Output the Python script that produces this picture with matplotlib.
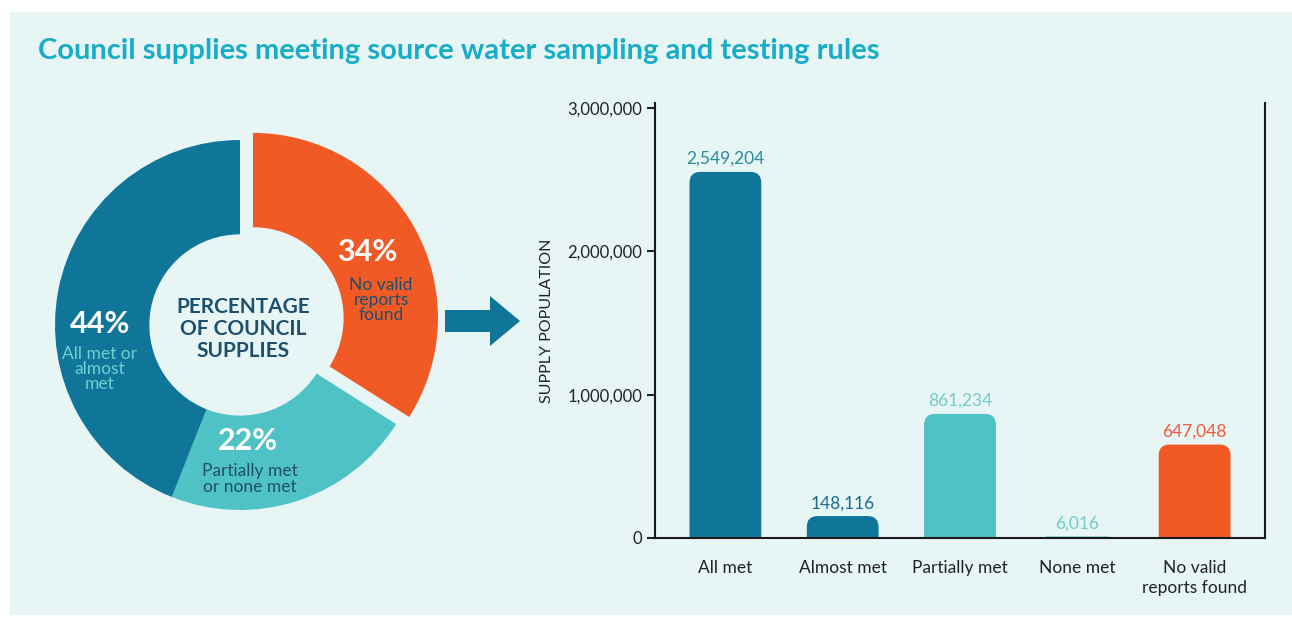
import numpy as np
import matplotlib
matplotlib.use("Agg")
import matplotlib.pyplot as plt
from matplotlib.patches import Rectangle, FancyBboxPatch, FancyArrow, BoxStyle

plt.rcParams['font.family'] = ['Lato', 'DejaVu Sans']

# donut data (clockwise from 12 o'clock)
donut_pct = [34, 22, 44]
donut_nums = ["34%", "22%", "44%"]
donut_text = ["No valid\nreports\nfound", "Partially met\nor none met", "All met or\nalmost\nmet"]

# bar data
categories = ["All met", "Almost met", "Partially met", "None met", "No valid\nreports found"]
population = [2549204, 148116, 861234, 6016, 647048]
bar_labels = ["2,549,204", "148,116", "861,234", "6,016", "647,048"]

BLUE = "#0f7699"
TEAL = "#4fc2c6"
ORANGE = "#f15a24"
NAVY = "#1d4f6e"
BG = "#e7f5f5"

W, H = 1292, 619
fig = plt.figure(figsize=(W / 100, H / 100), dpi=100, facecolor="white")

# overlay axes in pixel coordinates for panel, title, arrow
ov = fig.add_axes([0, 0, 1, 1], zorder=-1)
ov.set_xlim(0, W)
ov.set_ylim(H, 0)
ov.axis("off")
ov.add_patch(Rectangle((10, 12), W - 10, 603, color=BG, lw=0))
ov.text(38, 51, "Council supplies meeting source water sampling and testing rules",
        fontsize=21, fontweight="bold", color="#17acc7", va="center", ha="left")
ov.add_patch(FancyArrow(445, 321, 45, 0, width=22, head_width=50, head_length=30,
                        length_includes_head=False, color=BLUE, lw=0))

# donut
cx, cy, R = 240, 325, 185
span = 210
ax_d = fig.add_axes([(cx - span) / W, (H - cy - span) / H, 2 * span / W, 2 * span / H])
ax_d.pie(donut_pct, colors=[ORANGE, TEAL, BLUE], startangle=90, counterclock=False,
         explode=[0.08, 0, 0], radius=1, wedgeprops=dict(width=0.51, lw=0))
lim = span / R
ax_d.set_xlim(-lim, lim)
ax_d.set_ylim(-lim, lim)
ax_d.set_aspect("equal")
ax_d.axis("off")

def px(x, y):
    return ((x - cx) / R, (cy - y) / R)

ax_d.text(*px(367, 252), donut_nums[0], color="white", fontsize=22, fontweight="bold", ha="center", va="center")
ax_d.text(*px(381, 300), donut_text[0], color=NAVY, fontsize=12.5, ha="center", va="center", linespacing=0.95)
ax_d.text(*px(248, 441), donut_nums[1], color="white", fontsize=22, fontweight="bold", ha="center", va="center")
ax_d.text(*px(250, 479), donut_text[1], color=NAVY, fontsize=12.5, ha="center", va="center", linespacing=0.95)
ax_d.text(*px(100, 324), donut_nums[2], color="white", fontsize=22, fontweight="bold", ha="center", va="center")
ax_d.text(*px(100, 369), donut_text[2], color="#6fcfd0", fontsize=12.5, ha="center", va="center", linespacing=0.95)
ax_d.text(*px(243, 329), "PERCENTAGE\nOF COUNCIL\nSUPPLIES", color=NAVY, fontsize=15,
          fontweight="bold", ha="center", va="center", linespacing=1.15)

# bar chart
ax = fig.add_axes([655 / W, (H - 538) / H, 610 / W, 435 / H])
ax.set_facecolor("none")
x = np.arange(len(categories))
bar_colors = [BLUE, BLUE, TEAL, TEAL, ORANGE]
label_colors = ["#2a8b9c", "#1a6d8e", "#72cdc6", "#72cdc6", "#ef5a3a"]
bw = 0.6
ymax = 3.035e6
ax.set_xlim(-0.6, 4.6)
ax.set_ylim(0, ymax)

bars = ax.bar(x, population, width=bw, color="none")
ypp = ymax / 435
xpp = 5.2 / 610
ma = ypp / xpp
rs = 10 * xpp
for b, c in zip(bars, bar_colors):
    bx, bh = b.get_x(), b.get_height()
    y0 = -rs * ma
    hh = bh - y0
    r = min(rs, hh / ma / 2)
    p = FancyBboxPatch((bx, y0), b.get_width(), hh,
                       boxstyle=BoxStyle.Round(pad=0, rounding_size=r),
                       mutation_aspect=ma, facecolor=c, edgecolor=c, lw=1)
    ax.add_patch(p)

for xi, v, t, c in zip(x, population, bar_labels, label_colors):
    ax.annotate(t, (xi, v), xytext=(0, 4), textcoords="offset points",
                ha="center", va="bottom", fontsize=12.5, color=c)

ax.set_yticks([0, 1e6, 2e6, 3e6])
ax.set_yticklabels(["0", "1,000,000", "2,000,000", "3,000,000"])
ax.set_xticks(x)
ax.set_xticklabels(categories, linespacing=1.3)
ax.tick_params(axis="y", length=6, width=1.5, labelsize=12, colors="#222222", pad=3)
ax.tick_params(axis="x", length=0, labelsize=12.5, colors="#222222", pad=16)
ax.spines["top"].set_visible(False)
for s in ["left", "right", "bottom"]:
    ax.spines[s].set_linewidth(1.5)
    ax.spines[s].set_color("#1a1a1a")
ax.set_ylabel("SUPPLY POPULATION", fontsize=11.5, color="#222222", labelpad=10)

fig.savefig("out.png", dpi=100, facecolor="white")
